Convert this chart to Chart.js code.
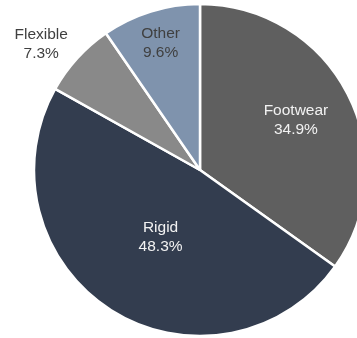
<!DOCTYPE html>
<html>
<head>
<meta charset="utf-8">
<script src="https://cdn.jsdelivr.net/npm/chart.js@4"></script>
<style>
html, body { margin:0; padding:0; background:#fff; overflow:hidden; }
#wrap { width:400px; height:338px; position:relative; }
</style>
</head>
<body>
<div id="wrap"><canvas id="pieChart"></canvas></div>
<script>
const categories = ["Footwear", "Rigid", "Flexible", "Other"];
const shares = [34.9, 48.3, 7.3, 9.6];
const sliceColors = ["#5f5f5f", "#333d4f", "#898989", "#7f93ad"];
const labelColors = ["#f2f2f2", "#f2f2f2", "#404040", "#404040"];
// label distance from the centre (share of radius) and angle nudge in degrees
const labelRadius = [0.65, 0.47, 1.22, 0.8];
const labelTurn = [0, -2, -4, 0];

const sliceLabels = {
  id: "sliceLabels",
  afterDatasetsDraw(chart) {
    const ctx = chart.ctx;
    const arcs = chart.getDatasetMeta(0).data;
    ctx.save();
    ctx.font = "15.5px 'Liberation Sans', Arial, sans-serif";
    ctx.textAlign = "center";
    ctx.textBaseline = "middle";
    arcs.forEach((arc, i) => {
      const mid = (arc.startAngle + arc.endAngle) / 2 + labelTurn[i] * Math.PI / 180;
      const r = arc.outerRadius * labelRadius[i];
      const x = arc.x + Math.cos(mid) * r;
      const y = arc.y + Math.sin(mid) * r;
      ctx.fillStyle = labelColors[i];
      ctx.fillText(categories[i], x, y - 9.5);
      ctx.fillText(shares[i].toFixed(1) + "%", x, y + 9.5);
    });
    ctx.restore();
  }
};

new Chart(document.getElementById("pieChart"), {
  type: "pie",
  data: {
    labels: categories,
    datasets: [{
      data: shares,
      backgroundColor: sliceColors,
      borderColor: "#ffffff",
      borderWidth: 2.5
    }]
  },
  options: {
    responsive: true,
    maintainAspectRatio: false,
    animation: false,
    radius: 166,
    layout: { padding: { top: 4, bottom: 2 } },
    plugins: {
      legend: { display: false },
      tooltip: { enabled: false }
    }
  },
  plugins: [sliceLabels]
});
</script>
</body>
</html>
